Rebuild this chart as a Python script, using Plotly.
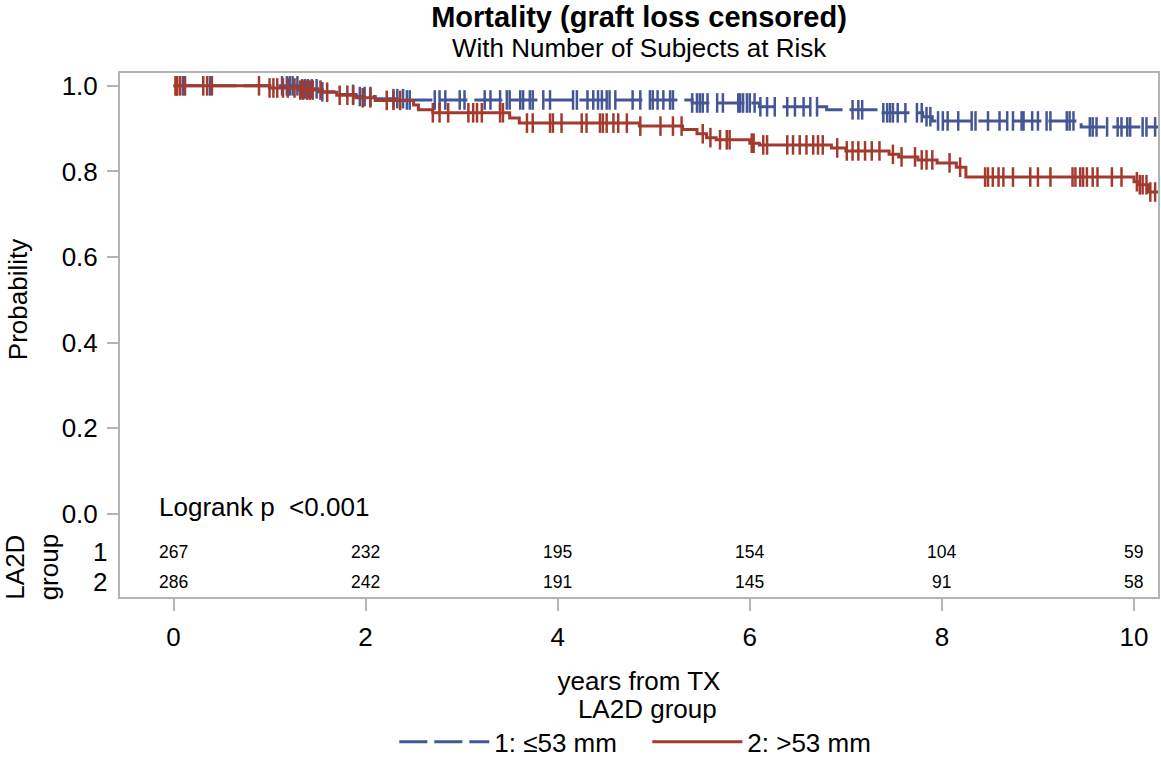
import plotly.graph_objects as go

# ---------------- data ----------------
# Kaplan-Meier step points: time (years) and survival probability
g1_times = [0.0, 1.3, 1.5, 1.7, 1.9, 2.1, 2.4, 5.4, 6.1, 6.8, 7.35, 7.8, 7.9, 9.45, 10.3]
g1_surv = [1.0, 0.993, 0.986, 0.98, 0.975, 0.97, 0.967, 0.96, 0.951, 0.944, 0.937, 0.928, 0.918, 0.904, 0.904]

g2_times = [0.0, 1.0, 1.3, 1.55, 1.7, 1.9, 2.1, 2.5, 2.55, 2.7, 3.5, 3.6, 4.85, 5.3, 5.45, 5.55,
            5.65, 6.0, 6.1, 6.85, 7.0, 7.45, 7.55, 7.75, 7.95, 8.15, 8.25, 10.0, 10.05, 10.15, 10.3]
g2_surv = [1.0, 0.995, 0.99, 0.985, 0.978, 0.972, 0.966, 0.955, 0.944, 0.937, 0.925, 0.913, 0.906, 0.898,
           0.888, 0.879, 0.874, 0.866, 0.862, 0.855, 0.848, 0.84, 0.834, 0.827, 0.82, 0.81, 0.787, 0.776,
           0.769, 0.752, 0.752]

# censored observation times (years)
g1_cens = [0.03, 0.10, 0.38, 1.13, 1.18, 1.21, 1.24, 1.29, 1.34, 1.37, 1.40, 1.44, 1.49, 1.55, 1.87, 1.94,
           1.99, 2.05, 2.29, 2.33, 2.39, 2.43, 2.46, 2.72, 2.77, 2.83, 2.98, 3.03, 3.24, 3.30, 3.40, 3.47,
           3.50, 3.61, 3.64, 3.71, 3.74, 3.85, 3.92, 4.16, 4.20, 4.31, 4.37, 4.42, 4.46, 4.51, 4.54, 4.60,
           4.78, 4.86, 4.96, 4.99, 5.04, 5.10, 5.17, 5.20, 5.40, 5.45, 5.48, 5.51, 5.56, 5.66, 5.72, 5.88,
           5.90, 5.93, 5.97, 6.00, 6.05, 6.11, 6.18, 6.26, 6.39, 6.47, 6.56, 6.63, 6.70, 7.07, 7.13, 7.17,
           7.39, 7.43, 7.46, 7.49, 7.54, 7.62, 7.74, 7.79, 7.84, 7.88, 7.96, 8.01, 8.06, 8.17, 8.31, 8.35,
           8.48, 8.60, 8.68, 8.74, 8.83, 8.85, 8.94, 9.00, 9.09, 9.13, 9.30, 9.33, 9.37, 9.54, 9.57, 9.61,
           9.72, 9.83, 9.87, 9.93, 9.96, 10.09, 10.13, 10.22]
g2_cens = [0.02, 0.04, 0.07, 0.12, 0.31, 0.35, 0.40, 0.89, 1.00, 1.04, 1.08, 1.14, 1.19, 1.26, 1.32, 1.35,
           1.39, 1.42, 1.45, 1.53, 1.60, 1.73, 1.81, 1.87, 1.97, 2.05, 2.22, 2.29, 2.36, 2.70, 2.77, 2.86,
           3.07, 3.12, 3.16, 3.21, 3.40, 3.43, 3.68, 3.74, 3.92, 3.95, 4.04, 4.25, 4.30, 4.44, 4.47, 4.51,
           4.58, 4.63, 4.72, 4.86, 5.07, 5.20, 5.29, 5.51, 5.59, 5.69, 5.76, 5.79, 6.02, 6.04, 6.14, 6.18,
           6.39, 6.45, 6.52, 6.59, 6.66, 6.71, 6.76, 6.91, 7.01, 7.07, 7.13, 7.20, 7.27, 7.35, 7.49, 7.58,
           7.72, 7.79, 7.84, 7.90, 8.08, 8.19, 8.45, 8.48, 8.53, 8.59, 8.64, 8.74, 8.92, 9.00, 9.13, 9.36,
           9.39, 9.44, 9.47, 9.51, 9.57, 9.62, 9.77, 9.87, 10.03, 10.06, 10.09, 10.13, 10.17, 10.22]

# number at risk table
risk_times = [0, 2, 4, 6, 8, 10]
risk_g1 = [267, 232, 195, 154, 104, 59]
risk_g2 = [286, 242, 191, 145, 91, 58]

y_ticks = [0.0, 0.2, 0.4, 0.6, 0.8, 1.0]
x_ticks = [0, 2, 4, 6, 8, 10]
group_names = ["1: \u226453 mm", "2: >53 mm"]

# ---------------- styling ----------------
BLUE = "#445694"
RED = "#A23A2E"
FRAME = "#B4B4B4"
FONT = "Liberation Sans, Arial, sans-serif"
FIG_W, FIG_H = 1161, 760


def surv_at(times, survs, t):
    s = survs[0]
    for ti, si in zip(times, survs):
        if ti <= t:
            s = si
        else:
            break
    return s


fig = go.Figure()

groups = [
    (g1_times, g1_surv, g1_cens, BLUE, "28px,7px", group_names[0]),
    (g2_times, g2_surv, g2_cens, RED, "solid", group_names[1]),
]
for times, survs, cens, color, dash, name in groups:
    fig.add_trace(go.Scatter(
        x=times, y=survs, mode="lines", line=dict(color=color, width=3, shape="hv", dash=dash),
        name=name, legendgroup=name, showlegend=True, hoverinfo="skip"))
    fig.add_trace(go.Scatter(
        x=cens, y=[surv_at(times, survs, c) for c in cens], mode="markers",
        marker=dict(symbol="line-ns", size=14, line=dict(color=color, width=2.5), color=color),
        name=name, legendgroup=name, showlegend=False, hoverinfo="skip"))

annotations = []
# number at risk rows
for row_y, counts in [(-0.088, risk_g1), (-0.158, risk_g2)]:
    for t, n in zip(risk_times, counts):
        annotations.append(dict(x=t, y=row_y, xref="x", yref="y", text=str(n), showarrow=False,
                                xanchor="center", yanchor="middle",
                                font=dict(family=FONT, size=17.5, color="black")))
# row labels
for row_y, lab in [(-0.088, "1"), (-0.158, "2")]:
    annotations.append(dict(x=-0.011, y=row_y, xref="paper", yref="y", text=lab, showarrow=False,
                            xanchor="right", yanchor="middle",
                            font=dict(family=FONT, size=26, color="black")))
annotations.append(dict(x=-0.085, y=-0.123, xref="paper", yref="y", text="LA2D<br>group",
                        showarrow=False, textangle=-90, xanchor="center", yanchor="middle",
                        font=dict(family=FONT, size=26, color="black")))
annotations.append(dict(x=-0.098, y=0.5, xref="paper", yref="y", text="Probability",
                        showarrow=False, textangle=-90, xanchor="center", yanchor="middle",
                        font=dict(family=FONT, size=26, color="black")))
annotations.append(dict(x=-0.173, y=0.016, xref="x", yref="y", text="Logrank p  &lt;0.001",
                        showarrow=False, xanchor="left", yanchor="middle",
                        font=dict(family=FONT, size=26, color="black")))
# subtitle
annotations.append(dict(x=0.5, y=1.0485, xref="paper", yref="paper", text="With Number of Subjects at Risk",
                        showarrow=False, xanchor="center", yanchor="middle",
                        font=dict(family=FONT, size=26, color="black")))

fig.update_layout(
    width=FIG_W, height=FIG_H,
    margin=dict(l=120, r=3, t=73, b=163, autoexpand=False),
    paper_bgcolor="white", plot_bgcolor="white",
    font=dict(family=FONT, color="black"),
    title=dict(text="<b>Mortality (graft loss censored)</b>", x=0.5, xref="paper", xanchor="center",
               y=1 - 7 / FIG_H, yref="container", yanchor="top", pad=dict(t=0, b=0),
               font=dict(family=FONT, size=29, color="black")),
    xaxis=dict(range=[-0.557, 10.25], tickvals=x_ticks, ticktext=[str(v) for v in x_ticks],
               ticks="outside", ticklen=12, tickwidth=2, tickcolor=FRAME,
               showline=True, linecolor=FRAME, linewidth=2, mirror=True,
               showgrid=False, zeroline=False, ticklabelstandoff=4,
               tickfont=dict(family=FONT, size=26, color="black"),
               title=dict(text="years from TX", standoff=21, font=dict(family=FONT, size=26, color="black"))),
    yaxis=dict(range=[-0.194, 1.030], tickvals=y_ticks, ticktext=["%.1f" % v for v in y_ticks],
               ticks="outside", ticklen=11, tickwidth=2, tickcolor=FRAME,
               showline=True, linecolor=FRAME, linewidth=2, mirror=True,
               showgrid=False, zeroline=False, ticklabelstandoff=4,
               tickfont=dict(family=FONT, size=26, color="black")),
    legend=dict(orientation="h", x=0.508, xanchor="center", y=-0.167, yanchor="top",
                title=dict(text="LA2D group", side="top center", font=dict(family=FONT, size=26)),
                font=dict(family=FONT, size=26, color="black"), itemwidth=90,
                entrywidth=148, entrywidthmode="pixels",
                bgcolor="rgba(0,0,0,0)"),
    annotations=annotations,
    showlegend=True,
)

# remove the browser's default 8px page margin so the figure fills the window exactly
fig.write_html("out.html", config={"displayModeBar": False},
               post_script="document.body.style.margin='0';")
